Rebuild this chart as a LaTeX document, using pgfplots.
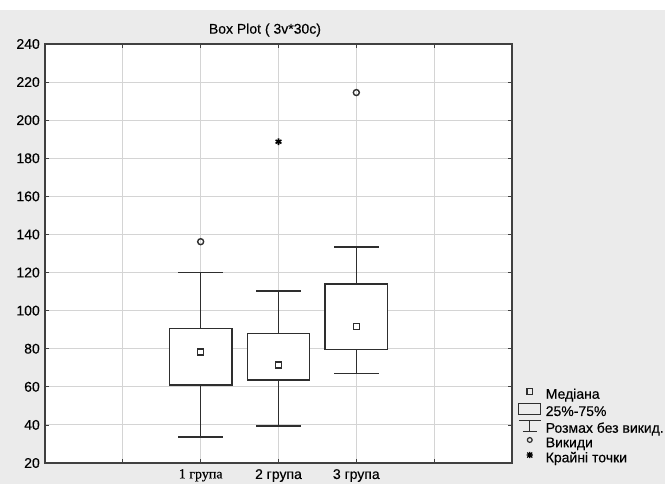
\documentclass[border=0pt]{standalone}
\usepackage{pgfplots}
\pgfplotsset{compat=1.18}
\usepackage{fontspec}
\setmainfont{Liberation Sans}[FakeBold=0.3]
\newfontfamily\serifone{Liberation Serif}[FakeBold=0.3]
\definecolor{bggray}{HTML}{EBEBEB}
\definecolor{axcol}{HTML}{404040}
\definecolor{boxcol}{HTML}{2E2E2E}
\definecolor{gridcol}{HTML}{D4D4D4}
\pgfplotsset{bx/.style={forget plot, boxcol, line width=1.6pt, solid, mark=none, line cap=rect}}
\begin{document}
\begin{tikzpicture}
\useasboundingbox (-45bp,-21bp) rectangle (620bp,463bp);
\fill[white] (-45bp,-21bp) rectangle (620bp,463bp);
\fill[bggray] (-45bp,-21bp) rectangle (620bp,453bp);
\begin{axis}[
  at={(0,0)}, anchor=south west,
  scale only axis,
  width=467bp, height=419bp,
  xmin=0, xmax=6, ymin=20, ymax=240,
  xtick={1,2,3,4,5},
  xticklabels={,{\serifone 1 група},2 група,3 група,},
  ytick={20,40,...,240},
  /pgf/number format/assume math mode=true,
  tick label style={font=\fontsize{14bp}{16bp}\selectfont, inner sep=0pt},
  yticklabel style={xshift=-5bp},
  xticklabel style={yshift=-6bp},
  tick align=inside,
  major tick length=4bp,
  tick style={axcol, line width=0.8pt},
  grid=major,
  major grid style={gridcol, line width=0.9pt},
  axis line style={axcol, line width=1.4pt},
  axis background/.style={fill=white},
  title={Box Plot ( 3v*30c)},
  title style={font=\fontsize{14bp}{16bp}\selectfont, at={(0.471,1)}, anchor=center, yshift=8bp, inner sep=0pt},
  legend style={draw=none, fill=none, at={(1.013,0.179)}, anchor=north west,
    font=\fontsize{14bp}{15bp}\selectfont, inner sep=0pt, row sep=0pt,
    nodes={text height=9bp, text depth=2.5bp, inner sep=1.5bp},
    /tikz/every odd column/.append style={column sep=3bp}},
  legend cell align=left,
]
\addlegendimage{legend image code/.code={\path (0bp,0bp) (22bp,0bp); \draw[boxcol, line width=1.2pt] (8.3bp,1.3bp) rectangle (13.7bp,6.7bp);}}
\addlegendimage{legend image code/.code={\draw[boxcol, line width=1pt] (0bp,-1.5bp) rectangle (22bp,9.5bp);}}
\addlegendimage{legend image code/.code={\draw[boxcol, line width=1pt] (0bp,9bp)--(22bp,9bp) (11bp,9bp)--(11bp,-2bp) (4bp,-2bp)--(18bp,-2bp);}}
\addlegendimage{legend image code/.code={\path (0bp,0bp) (22bp,0bp); \draw[boxcol, line width=1.2pt] (11bp,4bp) circle (2.4bp);}}
\addlegendimage{legend image code/.code={\path (0bp,0bp) (22bp,0bp); \draw[black, line width=1.2pt] (8.5bp,1.5bp)--(13.5bp,6.5bp) (8.5bp,6.5bp)--(13.5bp,1.5bp) (11bp,0.8bp)--(11bp,7.2bp) (7.8bp,4bp)--(14.2bp,4bp);}}
\legend{Медіана,25\%-75\%,Розмах без викид.,Викиди,Крайні точки}

% group 1: whiskers 33.5 / 120, quartiles 61 / 90.7
\addplot[bx] coordinates {(2,90.7) (2,120)};
\addplot[bx] coordinates {(1.72,120) (2.28,120)};
\addplot[bx] coordinates {(2,61) (2,33.5)};
\addplot[bx] coordinates {(1.72,33.5) (2.28,33.5)};
\addplot[bx, fill=white] coordinates {(1.6,61) (2.4,61) (2.4,90.7) (1.6,90.7)} -- cycle;
% group 2: whiskers 39.5 / 110.3, quartiles 63.6 / 88.1
\addplot[bx] coordinates {(3,88.1) (3,110.3)};
\addplot[bx] coordinates {(2.72,110.3) (3.28,110.3)};
\addplot[bx] coordinates {(3,63.6) (3,39.5)};
\addplot[bx] coordinates {(2.72,39.5) (3.28,39.5)};
\addplot[bx, fill=white] coordinates {(2.6,63.6) (3.4,63.6) (3.4,88.1) (2.6,88.1)} -- cycle;
% group 3: whiskers 66.9 / 133.4, quartiles 79.7 / 114
\addplot[bx] coordinates {(4,114) (4,133.4)};
\addplot[bx] coordinates {(3.72,133.4) (4.28,133.4)};
\addplot[bx] coordinates {(4,79.7) (4,66.9)};
\addplot[bx] coordinates {(3.72,66.9) (4.28,66.9)};
\addplot[bx, fill=white] coordinates {(3.6,79.7) (4.4,79.7) (4.4,114) (3.6,114)} -- cycle;
% medians
\addplot[forget plot, only marks, mark=square, mark size=3bp, boxcol, mark options={line width=1.5pt}]
  coordinates {(2,78.4) (3,71.5) (4,91.6)};
% outliers
\addplot[forget plot, only marks, mark=o, mark size=3bp, boxcol, mark options={line width=1.4pt}]
  coordinates {(2,136.2) (4,214.5)};
% extremes
\addplot[forget plot, only marks, mark=asterisk, mark size=3.4bp, black, mark options={line width=1.6pt}]
  coordinates {(3,188.7)};
\end{axis}
\end{tikzpicture}
\end{document}
